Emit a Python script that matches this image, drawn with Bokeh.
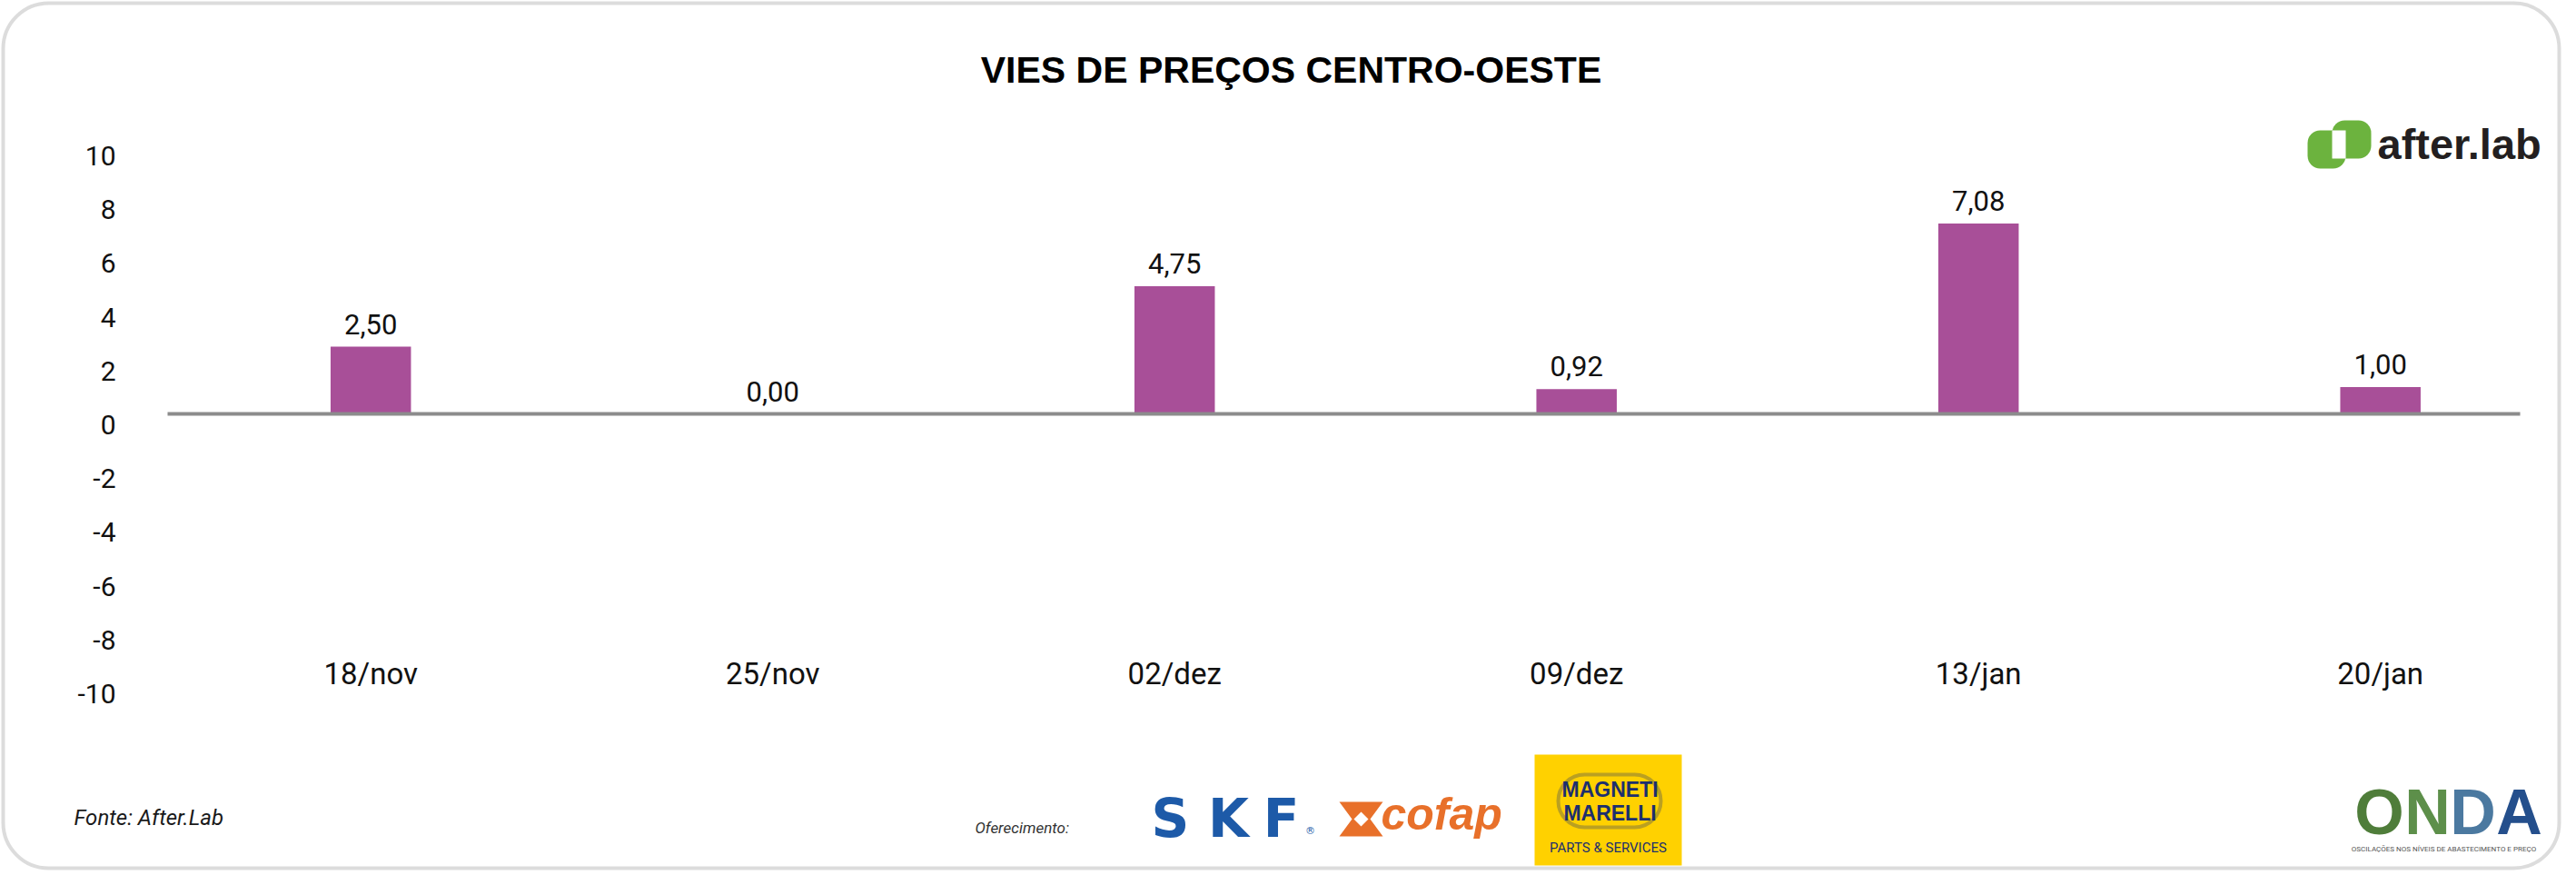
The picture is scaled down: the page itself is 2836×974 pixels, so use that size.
import numpy as np
from bokeh.plotting import figure
from bokeh.models import (Range1d, Label, BoxAnnotation, PolyAnnotation,
                          ColumnDataSource)
from bokeh.core.properties import value
from bokeh.embed import file_html
from bokeh.resources import INLINE

# ---------------- data ----------------
categories = ["18/nov", "25/nov", "02/dez", "09/dez", "13/jan", "20/jan"]
vies = [2.50, 0.00, 4.75, 0.92, 7.08, 1.00]
y_ticks = [-10, -8, -6, -4, -2, 0, 2, 4, 6, 8, 10]
y_tick_labels = ["-10", "-8", "-6", "-4", "-2", "0", "2", "4", "6", "8", "10"]
title_text = "VIES DE PREÇOS CENTRO-OESTE"
source_text = "Fonte: After.Lab"
sponsor_text = "Oferecimento:"
onda_tagline = "OSCILAÇÕES NOS NÍVEIS DE ABASTECIMENTO E PREÇO"

value_labels = [f"{v:.2f}".replace(".", ",") for v in vies]
xpos = np.arange(len(categories))

# ---------------- layout (picture pixels) ----------------
W, H = 2820, 958
PX0, PY0 = 0, 0                      # canvas origin in the picture
CAT_W = 442.5                        # pixels per category slot
FIRST_CAT_X = 407.7                  # centre of the first slot
ZERO_Y, PX_PER_UNIT = 455, 29.6      # y scale
AXIS_LINE_X = (184, 2774)            # extent of the zero line

x_start = (PX0 - FIRST_CAT_X) / CAT_W
x_end = (PX0 + W - FIRST_CAT_X) / CAT_W
y_top = (ZERO_Y - PY0) / PX_PER_UNIT
y_bot = (ZERO_Y - (PY0 + H)) / PX_PER_UNIT
cat_label_y = (ZERO_Y - 741) / PX_PER_UNIT
line_x0 = (AXIS_LINE_X[0] - FIRST_CAT_X) / CAT_W
line_x1 = (AXIS_LINE_X[1] - FIRST_CAT_X) / CAT_W


def sx(X):
    return X - PX0


def sy(Y):
    return PY0 + H - Y


p = figure(width=W, height=H,
           x_range=Range1d(x_start, x_end), y_range=Range1d(y_bot, y_top),
           x_axis_type=None, y_axis_type=None,
           output_backend="svg", toolbar_location=None,
           min_border=0)
p.outline_line_color = None
p.grid.visible = False
p.background_fill_color = "white"
p.border_fill_color = "white"

src = ColumnDataSource(dict(x=xpos, val=vies, lbl=value_labels,
                            cat=categories,
                            laby=[cat_label_y] * len(categories)))

p.vbar(x="x", top="val", width=0.2, source=src,
       fill_color="#a84f98", line_color=None)

# zero line
p.segment(x0=[line_x0], y0=[0], x1=[line_x1], y1=[0],
          line_color="#8c8c8c", line_width=4)

# value labels
p.text(x="x", y="val", text="lbl", source=src, text_align="center",
       text_baseline="middle", y_offset=-25,
       text_font=value("Roboto"), text_font_size="31px",
       text_color="#111111")

# category labels
p.text(x="x", y="laby", text="cat", source=src, text_align="center",
       text_baseline="middle", text_font=value("Roboto"),
       text_font_size="33px", text_color="#111111")

# y tick labels
tick_src = ColumnDataSource(dict(y=y_ticks, t=y_tick_labels,
                                 x=[x_start] * len(y_ticks)))
p.text(x="x", y="y", text="t", source=tick_src, x_offset=127 - PX0,
       y_offset=12, text_align="right", text_baseline="middle",
       text_font=value("Roboto"), text_font_size="30px",
       text_color="#111111")


def box(X0, Y0, X1, Y1, **kw):
    b = BoxAnnotation(left=sx(X0), right=sx(X1), top=sy(Y0), bottom=sy(Y1),
                      left_units="screen", right_units="screen",
                      top_units="screen", bottom_units="screen", **kw)
    p.add_layout(b)
    return b


def label(X, Y, text, **kw):
    lb = Label(x=sx(X), y=sy(Y), x_units="screen", y_units="screen",
               text=text, text_baseline="middle", **kw)
    p.add_layout(lb)
    return lb


def poly(xs, ys, **kw):
    pa = PolyAnnotation(xs=[sx(v) for v in xs], ys=[sy(v) for v in ys],
                        xs_units="screen", ys_units="screen", **kw)
    p.add_layout(pa)
    return pa


# card border
box(3, 3, 2817, 955, fill_alpha=0, line_color="#8c8c8c", line_width=4,
    border_radius=50)

# title
label(1421, 76, title_text, text_align="center",
      text_font="Liberation Sans", text_font_style="bold",
      text_font_size="41px", text_color="#000000")

# after.lab logo
green = "#6cb33e"
box(2540, 143, 2582, 185, fill_color=green, fill_alpha=1, line_color=None,
    border_radius=14)
box(2567, 132, 2610, 174, fill_color=green, fill_alpha=1, line_color=None,
    border_radius=14)
box(2567, 143, 2582, 174, fill_color="white", fill_alpha=1, line_color=None)
label(2617, 158, "after.lab", text_align="left",
      text_font="Liberation Sans", text_font_style="bold",
      text_font_size="47px", text_color="#231f20")

# source note / sponsor caption
label(81, 899, source_text, text_align="left",
      text_font="Roboto", text_font_style="italic", text_font_size="24px",
      text_color="#1a1a1a")
label(1073, 910, sponsor_text, text_align="left",
      text_font="Roboto", text_font_style="italic", text_font_size="17px",
      text_color="#333333")

# SKF
skf_blue = "#1d5aa8"
for ch, cx in zip("SKF", [1288, 1352, 1410]):
    label(cx, 900, ch, text_align="center",
          text_font="DejaVu Sans", text_font_style="bold",
          text_font_size="58px", text_color=skf_blue)
label(1442, 914, "®", text_align="center",
      text_font="DejaVu Sans", text_font_size="11px", text_color=skf_blue)

# cofap
orange = "#e8702a"
poly([1474, 1522, 1508, 1522, 1474, 1488], [882, 882, 901, 920, 920, 901],
     fill_color=orange, fill_alpha=1, line_color=None)
poly([1490, 1498, 1506, 1498], [901, 893, 901, 909],
     fill_color="white", fill_alpha=1, line_color=None)
label(1520, 895, "cofap", text_align="left",
      text_font="Liberation Sans", text_font_style="bold italic",
      text_font_size="50px", text_color=orange)

# Magneti Marelli
navy = "#1c2f6e"
box(1689, 830, 1851, 952, fill_color="#ffd100", fill_alpha=1,
    line_color=None)
box(1715, 852, 1828, 910, fill_alpha=0, line_color=navy, line_width=4,
    border_radius=29)
label(1772, 868, "MAGNETI", text_align="center",
      text_font="Liberation Sans", text_font_style="bold",
      text_font_size="23px", text_color=navy)
label(1772, 894, "MARELLI", text_align="center",
      text_font="Liberation Sans", text_font_style="bold",
      text_font_size="23px", text_color=navy)
label(1770, 932, "PARTS & SERVICES", text_align="center",
      text_font="Roboto", text_font_size="15px", text_color=navy)

# ONDA
for ch, cx, col in zip("ONDA", [2619, 2672, 2722, 2773],
                       ["#4f7d3a", "#5d8f4a", "#4b79a0", "#244f8c"]):
    label(cx, 893, ch, text_align="center",
          text_font="Liberation Sans", text_font_style="bold",
          text_font_size="70px", text_color=col)
label(2690, 934, onda_tagline, text_align="center",
      text_font="Roboto", text_font_size="8px", text_color="#555555")

open("out.html", "w").write(file_html(p, INLINE))
